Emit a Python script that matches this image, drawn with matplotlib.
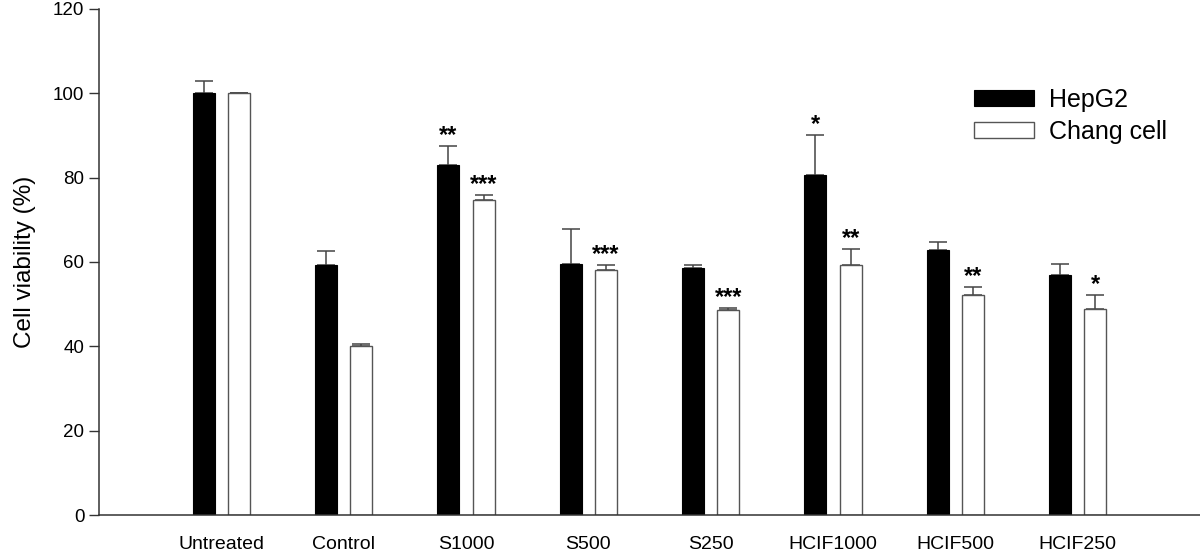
import matplotlib
matplotlib.use("Agg")
import matplotlib.pyplot as plt
import numpy as np

categories = ["Untreated", "Control", "S1000", "S500", "S250", "HCIF1000", "HCIF500", "HCIF250"]
hepg2 = [100.0, 59.2, 82.9, 59.4, 58.6, 80.5, 62.8, 57.0]
hepg2_err = [3.0, 3.5, 4.5, 8.5, 0.6, 9.6, 2.0, 2.4]
chang = [100.0, 40.0, 74.6, 58.1, 48.5, 59.2, 52.1, 48.8]
chang_err = [0.0, 0.6, 1.3, 1.2, 0.5, 3.8, 2.0, 3.4]
hepg2_sig = ["", "", "**", "", "", "*", "", ""]
chang_sig = ["", "", "***", "***", "***", "**", "**", "*"]
yticks = [0, 20, 40, 60, 80, 100, 120]

plt.rcParams['font.family'] = ['Liberation Sans', 'DejaVu Sans']

fig = plt.figure(figsize=(12, 5.56), dpi=100)
ax = fig.add_axes([0.0825, 0.0737, 0.9175, 0.9103])

x = np.arange(len(categories))
w = 0.18
off = 0.145
ekw = dict(ecolor='#444444', elinewidth=1.1, capsize=6.5, capthick=1.1)

ax.bar(x - off, hepg2, w, color='black', edgecolor='black', linewidth=0.8, label='HepG2', zorder=2)
ax.errorbar(x - off, hepg2, yerr=[np.zeros(len(x)), hepg2_err], fmt='none', zorder=1, **ekw)
ax.bar(x + off, chang, w, color='white', edgecolor='#555555', linewidth=1.0, label='Chang cell', zorder=2)
ax.errorbar(x + off, chang, yerr=[np.zeros(len(x)), chang_err], fmt='none', zorder=1, **ekw)

for i in range(len(x)):
    if hepg2_sig[i]:
        ax.annotate(hepg2_sig[i], (x[i] - off, hepg2[i] + hepg2_err[i]), xytext=(0, 3),
                    textcoords='offset points', ha='center', va='baseline', fontsize=17,
                    fontweight='bold')
    if chang_sig[i]:
        ax.annotate(chang_sig[i], (x[i] + off, chang[i] + chang_err[i]), xytext=(0, 3),
                    textcoords='offset points', ha='center', va='baseline', fontsize=17,
                    fontweight='bold')

ax.set_xlim(-1.0, 8.0)
ax.set_ylim(0, 120)
ax.set_yticks(yticks)
ax.set_xticks(x)
ax.set_xticklabels(categories, fontsize=14)
ax.tick_params(axis='x', length=0, pad=15)
ax.tick_params(axis='y', labelsize=13.5, length=7, width=1, direction='out', color='#333333')
ax.set_ylabel('Cell viability (%)', fontsize=17.5, labelpad=12)

for s in ['top', 'right']:
    ax.spines[s].set_visible(False)
for s in ['left', 'bottom']:
    ax.spines[s].set_color('#333333')
    ax.spines[s].set_linewidth(1.1)

leg = fig.legend(loc='upper left', bbox_to_anchor=(974 / 1200, 1 - 88 / 556),
                 bbox_transform=fig.transFigure, frameon=False, fontsize=18,
                 handlelength=2.4, handleheight=0.6, handletextpad=0.6, labelspacing=0.3,
                 borderpad=0, borderaxespad=0)

fig.savefig('out.png', dpi=100)
